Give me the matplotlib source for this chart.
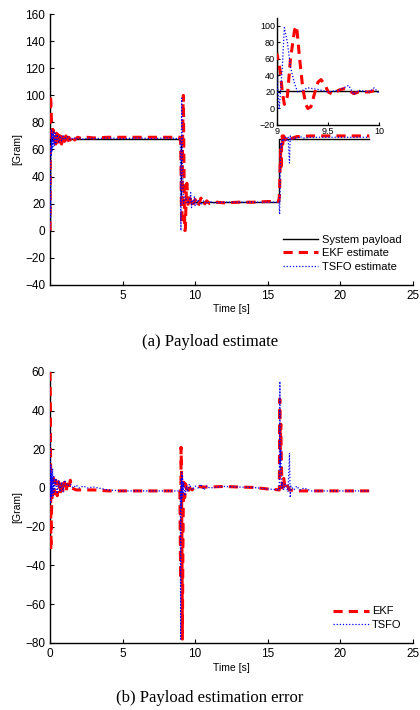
import matplotlib
matplotlib.use("Agg")
import matplotlib.pyplot as plt

plt.rcParams['font.family'] = ['Liberation Sans', 'DejaVu Sans']

# ---------------- data ----------------
sys_t = [0.0, 0.0, 9.0, 9.0, 15.8, 15.8, 22.0]
sys_v = [0.0, 68.0, 68.0, 21.0, 21.0, 68.0, 68.0]

ekf_t = [0.0, 0.03, 0.06, 0.10, 0.15, 0.20, 0.25, 0.30, 0.35, 0.40, 0.45, 0.50,
         0.55, 0.60, 0.70, 0.80, 0.90, 1.00, 1.10, 1.20, 1.30, 1.40, 1.50, 1.70,
         1.90, 2.20, 2.60, 3.00, 4.00, 5.00, 6.00, 7.00, 8.00, 8.95,
         9.00, 9.03, 9.05, 9.07, 9.10, 9.13, 9.17, 9.19, 9.22, 9.25, 9.28, 9.30,
         9.33, 9.37, 9.40, 9.43, 9.47, 9.50, 9.55, 9.60, 9.65, 9.70, 9.75, 9.80,
         9.90, 10.00, 10.20, 10.40, 10.60, 10.80, 11.00, 11.50, 12.00, 13.00,
         14.00, 15.00, 15.75, 15.80, 15.83, 15.86, 15.90, 15.93, 15.96, 16.00,
         16.05, 16.10, 16.20, 16.40, 16.60, 17.00, 18.00, 19.00, 20.00, 21.00, 22.00]
ekf_v = [0, 100, 95, 82, 78, 72, 75, 66, 70, 64, 72, 65,
         71, 63, 70, 64, 71, 66, 70, 65, 69, 67, 70, 67,
         69, 68, 69, 68.5, 69, 69, 69, 69, 69, 69,
         65, 45, 20, 5, 15, 60, 95, 100, 60, 25, 5, 0,
         2, 20, 32, 35, 28, 20, 17, 22, 24, 22, 18, 20,
         20, 23, 18, 24, 19, 22, 20, 21, 20.5, 21,
         21, 21.5, 21.5, 25, 35, 50, 60, 45, 65, 70,
         64, 70, 67, 70, 68, 69.5, 70, 70, 70, 70, 70]

tsfo_t = [0.0, 0.02, 0.04, 0.06, 0.08, 0.10, 0.13, 0.16, 0.20, 0.25, 0.30, 0.35,
          0.40, 0.50, 0.60, 0.70, 0.80, 0.90, 1.00, 1.20, 1.40, 1.60, 1.80, 2.00,
          2.30, 2.60, 3.00, 4.00, 5.00, 6.00, 7.00, 8.00, 8.98,
          9.00, 9.02, 9.05, 9.07, 9.10, 9.13, 9.17, 9.20, 9.25, 9.30, 9.40, 9.50,
          9.60, 9.70, 9.75, 9.80, 9.90, 9.95, 10.00, 10.20, 10.40, 10.60, 10.80,
          11.00, 11.30, 12.00, 13.00, 14.00, 15.00, 15.78, 15.82, 15.85, 15.88,
          15.92, 15.96, 16.00, 16.10, 16.20, 16.30, 16.40, 16.50, 16.55, 16.60,
          16.80, 17.00, 17.20, 17.50, 18.00, 19.00, 20.00, 21.00, 22.00]
tsfo_v = [0, 40, 10, 62, 55, 75, 58, 72, 62, 73, 63, 72,
          64, 71, 65, 70, 66, 70, 67, 69.5, 67, 69, 67.5, 68.5,
          67.5, 68.5, 68, 68.5, 68, 68.5, 68, 68.5, 68,
          30, 0, 50, 98, 80, 50, 30, 20, 22, 25, 23, 20,
          22, 28, 17, 22, 20, 25, 18, 23, 19, 22, 20,
          21.5, 20.5, 21, 21, 21, 21, 21, 12, 30, 55,
          65, 62, 68, 66, 69, 67, 69, 50, 70, 67,
          69, 68, 69.5, 68.5, 69, 69, 69, 69, 69]

ekf_err_t = [0.0, 0.03, 0.06, 0.08, 0.12, 0.18, 0.25, 0.30, 0.40, 0.50, 0.60,
             0.70, 0.80, 0.90, 1.00, 1.10, 1.20, 1.30, 1.40, 1.50, 1.80, 2.20,
             3.00, 4.00, 5.00, 6.00, 7.00, 8.00, 8.95,
             9.00, 9.03, 9.06, 9.09, 9.12, 9.15, 9.18, 9.22, 9.28, 9.35, 9.45,
             9.60, 9.80, 10.00, 10.50, 11.00, 12.00, 13.00, 14.00, 15.00, 15.80,
             15.83, 15.86, 15.90, 15.95, 16.00, 16.10, 16.20, 16.30, 16.50,
             17.00, 18.00, 19.00, 20.00, 21.00, 22.00]
ekf_err_v = [60, 40, -32, -20, -8, 2, 5, -3, 4, -4, 3,
             -3, 4, -2, 3, -2, 2, -1, 4, 0, -1, -1,
             -1, -1.5, -1.5, -1.5, -1.5, -1.5, -1.5,
             -47, 21, 10, -30, -78, -40, -10, 3, -5, 2, -3,
             0, -1, 1, 0.5, 0.5, 0.8, 0.5, 0.3, -0.5, -1,
             46, 20, 33, 10, 0, 5, 0, 2, -1,
             -1.5, -1.5, -1.5, -1.5, -1.5, -1.5]

tsfo_err_t = [0.0, 0.02, 0.04, 0.06, 0.08, 0.10, 0.14, 0.18, 0.22, 0.26, 0.30,
              0.40, 0.50, 0.60, 0.70, 0.80, 0.90, 1.00, 1.20, 1.40, 1.60, 1.80,
              2.00, 2.30, 2.60, 3.00, 4.00, 5.00, 6.00, 7.00, 8.00, 8.98,
              9.00, 9.02, 9.04, 9.06, 9.08, 9.10, 9.13, 9.16, 9.20, 9.30, 9.40,
              9.50, 9.60, 9.80, 10.00, 10.20, 10.40, 10.60, 10.80, 11.00, 11.50,
              12.00, 13.00, 14.00, 15.00, 15.80, 15.84, 15.86, 15.90, 15.95,
              16.00, 16.10, 16.20, 16.40, 16.50, 16.55, 16.60, 16.80, 17.00,
              17.20, 17.50, 18.00, 19.00, 20.00, 21.00, 22.00]
tsfo_err_v = [30, 10, -8, 12, -5, 8, -3, 10, -4, 6, -2,
              5, -3, 4, -2, 3, -2, 4, 1, 2, 0, 1.5,
              0, 1, 0, 0.5, -1, -1.5, -1.5, -1.5, -1.5, -1.5,
              -78, -20, 5, -10, 8, -5, 6, -3, 3, -4, 1,
              -2, 2, -1, 1, 0, 2, -1, 1, 0, 0.5,
              0.8, 0.5, 0.3, -0.5, -1, 55, 10, 20, 0,
              3, -1, 2, -2, 18, -5, 1, -1, 1,
              -1, 0, -1.5, -1.5, -1.5, -1.5, -1.5]

x_ticks_top = [5, 10, 15, 20, 25]
x_ticks_bot = [0, 5, 10, 15, 20, 25]
y_ticks_top = [-40, -20, 0, 20, 40, 60, 80, 100, 120, 140, 160]
y_ticks_bot = [-80, -60, -40, -20, 0, 20, 40, 60]
inset_xticks = [9, 9.5, 10]
inset_xlabels = ['9', '9.5', '10']
inset_yticks = [-20, 0, 20, 40, 60, 80, 100]

# ---------------- styling ----------------
RED = '#ff0000'
BLUE = '#0000ff'

fig = plt.figure(figsize=(4.2, 7.1), dpi=100)


def style(ax, fs=8.5):
    for s in ['top', 'right']:
        ax.spines[s].set_visible(False)
    ax.spines['left'].set_linewidth(1.0)
    ax.spines['bottom'].set_linewidth(1.0)
    ax.tick_params(direction='in', length=3, width=0.8, labelsize=fs,
                   colors='black')


def draw_est(ax, lw_red=2.2):
    ax.plot(sys_t, sys_v, color='black', lw=1.0, label='System payload', zorder=2)
    ax.plot(ekf_t, ekf_v, color=RED, lw=lw_red, ls=(0, (3, 2)),
            label='EKF estimate', zorder=3)
    ax.plot(tsfo_t, tsfo_v, color=BLUE, lw=0.9, ls=(0, (1, 1.5)),
            label='TSFO estimate', zorder=4)


# top axes
ax1 = fig.add_axes([0.119, 0.599, 0.864, 0.381])
draw_est(ax1)
ax1.set_xlim(0, 25)
ax1.set_ylim(-40, 160)
ax1.set_xticks(x_ticks_top)
ax1.set_yticks(y_ticks_top)
style(ax1)
ax1.set_xlabel('Time [s]', fontsize=7.5, labelpad=2)
ax1.set_ylabel('[Gram]', fontsize=7.5, labelpad=2)
ax1.legend(loc='lower right', bbox_to_anchor=(0.99, 0.02), frameon=False,
           fontsize=8, handlelength=3.2, handletextpad=0.3,
           labelspacing=0.3, borderpad=0.2)
fig.text(0.5, 0.518, '(a) Payload estimate', ha='center', va='center',
         fontsize=12, family='Liberation Serif')

# inset
axi = fig.add_axes([0.66, 0.824, 0.243, 0.151])
draw_est(axi, lw_red=2.2)
axi.set_xlim(9, 10)
axi.set_ylim(-20, 110)
axi.set_xticks(inset_xticks)
axi.set_xticklabels(inset_xlabels)
axi.set_yticks(inset_yticks)
style(axi, fs=6.5)
axi.tick_params(length=2, pad=1.5)

# bottom axes
ax2 = fig.add_axes([0.119, 0.0944, 0.864, 0.382])
ax2.plot(ekf_err_t, ekf_err_v, color=RED, lw=2.2, ls=(0, (3, 2)), label='EKF', zorder=3)
ax2.plot(tsfo_err_t, tsfo_err_v, color=BLUE, lw=0.9, ls=(0, (1, 1.5)),
         label='TSFO', zorder=4)
ax2.set_xlim(0, 25)
ax2.set_ylim(-80, 60)
ax2.set_xticks(x_ticks_bot)
ax2.set_yticks(y_ticks_bot)
style(ax2)
ax2.set_xlabel('Time [s]', fontsize=7.5, labelpad=2)
ax2.set_ylabel('[Gram]', fontsize=7.5, labelpad=2)
ax2.legend(loc='lower right', bbox_to_anchor=(0.99, 0.02), frameon=False,
           fontsize=8, handlelength=3.2, handletextpad=0.3,
           labelspacing=0.3, borderpad=0.2)
fig.text(0.5, 0.017, '(b) Payload estimation error', ha='center', va='center',
         fontsize=12, family='Liberation Serif')

fig.savefig('out.png', dpi=100)
